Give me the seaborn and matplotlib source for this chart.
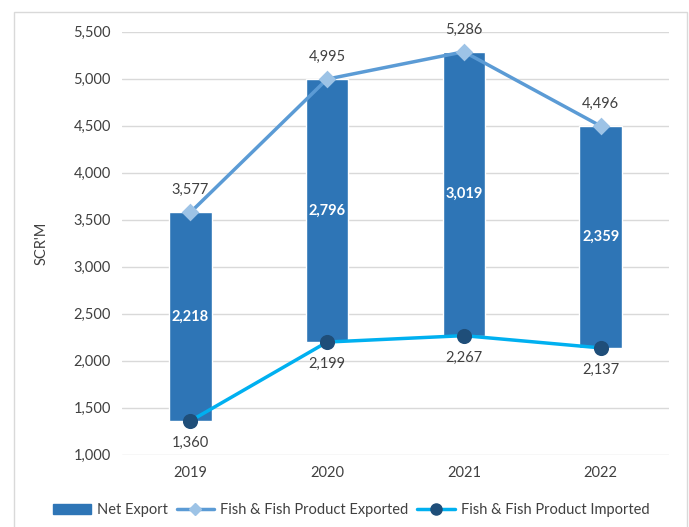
import matplotlib
matplotlib.use("Agg")
import matplotlib.pyplot as plt
from matplotlib.lines import Line2D
from matplotlib.patches import Patch, Rectangle
from matplotlib.ticker import FuncFormatter, MultipleLocator
import pandas as pd
import seaborn as sns

years = ["2019", "2020", "2021", "2022"]
exported = [3577, 4995, 5286, 4496]
imported = [1360, 2199, 2267, 2137]
net_export = [2218, 2796, 3019, 2359]

BAR_COLOR = "#2E75B6"
EXP_LINE = "#5B9BD5"
EXP_MARK = "#9DC3E6"
IMP_LINE = "#00B0F0"
IMP_MARK = "#1F4E79"
TEXT = "#404040"
GRID = "#D9D9D9"
FS = 10.5

sns.set_theme(style="white")
plt.rcParams["font.family"] = ["Lato", "DejaVu Sans"]

df = pd.DataFrame({"year": years, "exported": exported,
                   "imported": imported, "net": net_export})

fig = plt.figure(figsize=(6.89, 5.27), dpi=100)
ax = fig.add_axes([0.177, 0.137, 0.794, 0.803])

# floating bars: from imported value up by the net export
sns.barplot(data=df, x="year", y="net", bottom=df["imported"].to_numpy(),
            color=BAR_COLOR, saturation=1, width=0.31, ax=ax, zorder=2)

sns.pointplot(data=df, x="year", y="exported", color=EXP_LINE, markers="D",
              linewidth=2.5, markersize=7, markerfacecolor=EXP_MARK,
              markeredgecolor=EXP_MARK, ax=ax, zorder=3)
sns.pointplot(data=df, x="year", y="imported", color=IMP_LINE, markers="o",
              linewidth=2.5, markersize=9, markerfacecolor=IMP_MARK,
              markeredgecolor=IMP_MARK, ax=ax, zorder=3)

fmt = lambda v: f"{v:,.0f}"
for i in range(len(years)):
    ax.annotate(fmt(exported[i]), (i, exported[i]), xytext=(0, 11),
                textcoords="offset points", ha="center", va="bottom",
                fontsize=FS, color=TEXT)
    ax.annotate(fmt(imported[i]), (i, imported[i]), xytext=(0, -11),
                textcoords="offset points", ha="center", va="top",
                fontsize=FS, color=TEXT)
    ax.text(i, imported[i] + net_export[i] / 2, fmt(net_export[i]),
            ha="center", va="center", fontsize=FS, fontweight="bold",
            color="white", zorder=4)

ax.set_ylim(1000, 5500)
ax.set_xlim(-0.5, 3.5)
ax.yaxis.set_major_locator(MultipleLocator(500))
ax.yaxis.set_major_formatter(FuncFormatter(lambda v, p: f"{v:,.0f}"))
ax.grid(axis="y", color=GRID, linewidth=1, zorder=0)
ax.set_axisbelow(True)
for s in ax.spines.values():
    s.set_visible(False)
ax.tick_params(axis="both", length=0, labelsize=FS, labelcolor=TEXT, pad=8)
ax.set_xlabel("")
ax.set_ylabel("SCR'M", fontsize=FS, color=TEXT, labelpad=18)

handles = [
    Patch(facecolor=BAR_COLOR, edgecolor=BAR_COLOR),
    Line2D([0], [0], color=EXP_LINE, lw=2.5, marker="D", markersize=6,
           markerfacecolor=EXP_MARK, markeredgecolor=EXP_MARK),
    Line2D([0], [0], color=IMP_LINE, lw=2.5, marker="o", markersize=8,
           markerfacecolor=IMP_MARK, markeredgecolor=IMP_MARK),
]
labels = ["Net Export", "Fish & Fish Product Exported", "Fish & Fish Product Imported"]
fig.legend(handles, labels, loc="center", bbox_to_anchor=(0.51, 0.032), ncol=3,
           frameon=False, fontsize=FS, handlelength=2.6, columnspacing=0.6,
           handletextpad=0.4, labelcolor=TEXT)

fig.patches.append(Rectangle((0.021, -0.05), 0.976, 1.027, transform=fig.transFigure,
                             fill=False, edgecolor="#D9D9D9", linewidth=1))

fig.savefig("out.png", dpi=100)
